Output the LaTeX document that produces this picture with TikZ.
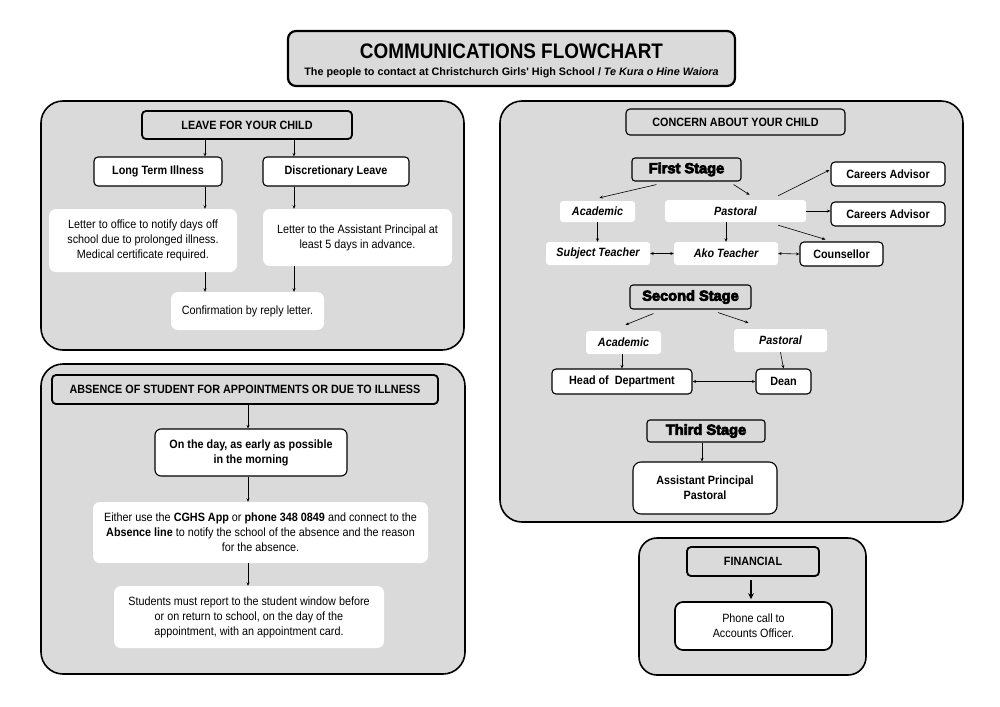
\documentclass[tikz,border=0pt]{standalone}
\usepackage{fontspec}
\setmainfont{Liberation Sans}[FakeStretch=0.9]
\newfontfamily\heavyfont{Liberation Sans}[FakeStretch=1.0,FakeBold=5]
\newfontfamily\titlefont{Liberation Sans}[FakeStretch=0.9]
\newfontfamily\subfont{Liberation Sans}
\usetikzlibrary{calc,arrows.meta}
\definecolor{panel}{RGB}{218,218,218}
\begin{document}
\begin{tikzpicture}[x=1pt,y=-1pt,
  panelbox/.style={draw, line width=1.6pt, fill=panel, rounded corners=22pt},
  hdr/.style={draw, line width=1.8pt, fill=panel, rounded corners=4pt, inner sep=0pt, align=center, font=\bfseries\fontsize{12}{14}\selectfont},
  hdrthin/.style={hdr, line width=1.1pt},
  stagebox/.style={draw, line width=1.1pt, fill=panel, rounded corners=3pt, inner sep=0pt, font=\heavyfont\bfseries\fontsize{14.6}{16}\selectfont},
  wbox/.style={draw, line width=1.1pt, fill=white, rounded corners=4pt, inner sep=0pt, align=center, font=\bfseries\fontsize{12}{14}\selectfont},
  wnb/.style={fill=white, rounded corners=7pt, inner sep=0pt, align=center, font=\fontsize{12}{15}\selectfont},
  wlab/.style={fill=white, rounded corners=3pt, inner sep=0pt, font=\bfseries\itshape\fontsize{12}{14}\selectfont},
  arr/.style={-{Stealth[length=3.5pt,width=3pt]}, line width=0.6pt},
  darr/.style={{Stealth[length=3.5pt,width=3pt]}-{Stealth[length=3.5pt,width=3pt]}, line width=0.6pt}
]
\useasboundingbox (0,0) rectangle (1000,706);

% title
\draw[line width=2.2pt, fill=panel, rounded corners=8pt] (288,31) rectangle (735,86);
\node[inner sep=0pt, align=center] (title) at (511.5,61)
 {{\titlefont\bfseries\fontsize{21}{21}\selectfont COMMUNICATIONS FLOWCHART}\\[4.5pt]
  {\subfont\bfseries\fontsize{10.8}{11}\selectfont The people to contact at Christchurch Girls' High School / \itshape Te Kura o Hine Waiora}};

% panels
\draw[panelbox] (41,101) rectangle (464,350);
\draw[panelbox] (500,101) rectangle (963,522);
\draw[panelbox] (41,364) rectangle (465,674);
\draw[panelbox, rounded corners=18pt] (639,538) rectangle (866,675);

% ---- Leave for your child
\node[hdr, minimum width=210, minimum height=28] (leave) at (247,125) {LEAVE FOR YOUR CHILD};
\node[wbox, minimum width=128, minimum height=29] (lti) at (158,171.5) {Long Term Illness};
\node[wbox, minimum width=146, minimum height=29] (disc) at (336,171.5) {Discretionary Leave};
\node[wnb, minimum width=188, minimum height=63] (let1) at (143,240.5)
 {Letter to office to notify days off\\school due to prolonged illness.\\Medical certificate required.};
\node[wnb, minimum width=189, minimum height=57] (let2) at (357.5,237.5)
 {Letter to the Assistant Principal at\\least 5 days in advance.};
\node[wnb, minimum width=153, minimum height=38] (conf) at (247.5,311) {Confirmation by reply letter.};
\coordinate (c1) at (205,0);
\coordinate (c2) at (294,0);
\draw[arr] (c1 |- leave.south) -- (c1 |- lti.north);
\draw[arr] (c2 |- leave.south) -- (c2 |- disc.north);
\draw[arr] (c1 |- lti.south) -- (c1 |- let1.north);
\draw[arr] (c2 |- disc.south) -- (c2 |- let2.north);
\draw[arr] (c1 |- let1.south) -- (c1 |- conf.north);
\draw[arr] (c2 |- let2.south) -- (c2 |- conf.north);

% ---- Concern about your child
\node[hdrthin, minimum width=219, minimum height=26] (concern) at (735.5,122) {CONCERN ABOUT YOUR CHILD};
\node[stagebox, minimum width=109, minimum height=23] (fs) at (686.5,169.5) {First Stage};
\node[wbox, minimum width=114, minimum height=24] (ca1) at (888,174) {Careers Advisor};
\node[wlab, minimum width=75, minimum height=21] (acad) at (597.5,211.5) {Academic};
\node[wlab, minimum width=141, minimum height=22] (past) at (735.5,211) {Pastoral};
\node[wbox, minimum width=114, minimum height=24] (ca2) at (888,214) {Careers Advisor};
\node[wlab, minimum width=104, minimum height=23] (subj) at (598,253.5) {Subject Teacher};
\node[wlab, minimum width=104, minimum height=23] (ako) at (726,253.5) {Ako Teacher};
\node[wbox, minimum width=83, minimum height=24] (couns) at (841.5,254) {Counsellor};
\draw[arr] ($(fs.south)+(-30,3)$) -- ($(acad.north)+(2,-3)$);
\draw[arr] ($(fs.south east)+(-8,3)$) -- ($(past.north)+(14,-5)$);
\draw[arr] ($(past.north east)+(-28,-4)$) -- ($(ca1.west)+(-1,-4)$);
\draw[arr] (past.east) -- (past.east -| ca2.west);
\draw[arr] ($(past.south east)+(-28,3)$) -- ($(couns.north)+(-16,-2)$);
\draw[arr] (acad.south) -- (acad.south |- subj.north);
\draw[arr] (ako.north |- past.south) -- (ako.north);
\draw[darr] (subj.east) -- (ako.west);
\draw[darr] (ako.east) -- (couns.west);

\node[stagebox, minimum width=121, minimum height=24] (ss) at (690.5,297) {Second Stage};
\node[wlab, minimum width=75, minimum height=23] (acad2) at (623.5,342.5) {Academic};
\node[wlab, minimum width=93, minimum height=23] (past2) at (780.5,340.5) {Pastoral};
\node[wbox, minimum width=140, minimum height=25] (hod) at (622,381.5) {Head of~~Department};
\node[wbox, minimum width=55, minimum height=25] (dean) at (783.5,381.5) {Dean};
\draw[arr] ($(ss.south)+(-37,4)$) -- ($(acad2.north)+(2,-6)$);
\draw[arr] ($(ss.south)+(27.5,3)$) -- ($(past2.north)+(-32,-6)$);
\draw[arr] (acad2.south -| hod.north) -- (hod.north);
\draw[arr] (past2.south) -- (dean.north);
\draw[darr] (hod.east) -- (dean.west);

\node[stagebox, minimum width=118, minimum height=22] (ts) at (706,431) {Third Stage};
\node[wbox, minimum width=144, minimum height=52, rounded corners=8pt, font=\bfseries\fontsize{12}{15}\selectfont] (ap) at (705,488) {Assistant Principal\\Pastoral};
\draw[arr] ($(ts.south)+(-4,0)$) -- ($(ap.north)+(-3,0)$);

% ---- Absence
\node[hdr, minimum width=386, minimum height=29] (absence) at (245,389.5) {ABSENCE OF STUDENT FOR APPOINTMENTS OR DUE TO ILLNESS};
\node[wbox, minimum width=192, minimum height=47, rounded corners=6pt, font=\bfseries\fontsize{12}{15}\selectfont] (onday) at (251,452.5) {On the day, as early as possible\\in the morning};
\node[wnb, minimum width=335, minimum height=61] (either) at (260.5,532.5)
 {Either use the \textbf{CGHS App} or \textbf{phone 348 0849} and connect to the\\\textbf{Absence line} to notify the school of the absence and the reason\\for the absence.};
\node[wnb, minimum width=270, minimum height=62] (students) at (249,617)
 {Students must report to the student window before\\or on return to school, on the day of the\\appointment, with an appointment card.};
\coordinate (c3) at (248,0);
\draw[arr] (c3 |- absence.south) -- (c3 |- onday.north);
\draw[arr] (c3 |- onday.south) -- (c3 |- either.north);
\draw[arr] (c3 |- either.south) -- (c3 |- students.north);

% ---- Financial
\node[hdr, minimum width=132, minimum height=29] (fin) at (753,561.5) {FINANCIAL};
\node[wbox, line width=1.7pt, minimum width=157, minimum height=48, rounded corners=8pt, font=\fontsize{12}{15}\selectfont] (phone) at (753.5,626) {Phone call to\\Accounts Officer.};
\coordinate (c4) at (751,0);
\draw[-{Stealth[length=6pt,width=6pt]}, line width=1.5pt] ($(c4 |- fin.south)+(0,3)$) -- ($(c4 |- phone.north)+(0,-2)$);
\end{tikzpicture}
\end{document}
